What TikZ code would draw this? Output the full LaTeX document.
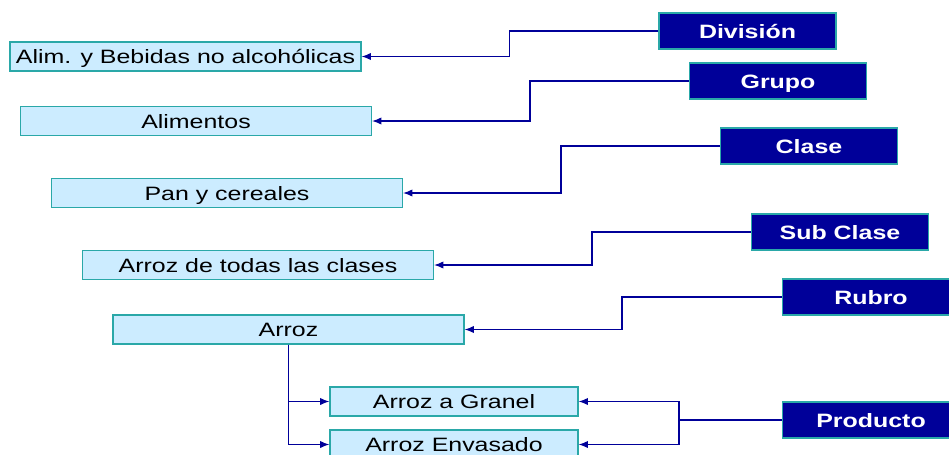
\documentclass[tikz,border=0pt]{standalone}
\usepackage{fontspec}
\usetikzlibrary{arrows.meta}
\setmainfont[FakeStretch=1.29]{Liberation Sans}
\definecolor{nivel}{HTML}{000099}
\definecolor{celeste}{HTML}{CCECFF}
\definecolor{borde}{HTML}{2AA8A8}

\tikzset{
  item/.style={draw=borde, fill=celeste, line width=0.9pt, inner sep=0pt,
    minimum width=263.25pt, minimum height=21.75pt,
    text height=10.5pt, text depth=0pt,
    font=\fontsize{14.5}{17}\selectfont},
  subitem/.style={item, minimum width=186pt},
  level/.style={draw=borde, fill=nivel, text=white, line width=0.9pt, inner sep=0pt,
    minimum width=132.75pt, minimum height=27pt,
    text height=10.5pt, text depth=0pt,
    font=\fontsize{14.5}{17}\selectfont\bfseries},
  conn/.style={draw=nivel, line width=0.9pt},
  tip/.style={-{Latex[length=7pt, width=5.5pt]}}
}

\begin{document}
\begin{tikzpicture}[x=0.75pt, y=-0.75pt]
        \useasboundingbox (0,0) rectangle (949,454);

        \node [item] (alim) at (185.5, 56.5) {Alim. y Bebidas no alcohólicas};
        \node [item] (alimentos) at (196, 121) {Alimentos};
        \node [item] (pan) at (227, 193) {Pan y cereales};
        \node [item] (todas) at (258, 265) {Arroz de todas las clases};
        \node [item] (arroz) at (288.5, 329.5) {Arroz};
        \node [subitem] (granel) at (454, 401.5) {Arroz a Granel};
        \node [subitem] (envasado) at (454, 444.5) {Arroz Envasado};

        \node [level] (division) at (747.5, 31) {División};
        \node [level] (grupo) at (778, 81) {Grupo};
        \node [level] (clase) at (809, 146) {Clase};
        \node [level] (subclase) at (840, 232) {Sub Clase};
        \node [level] (rubro) at (871, 297) {Rubro};
        \node [level] (producto) at (871, 420) {Producto};

        \draw[conn, tip] (division.west) -- ++(-149, 0) |- (alim.east);
        \draw[conn, tip] (grupo.west) -- ++(-159, 0) |- (alimentos.east);
        \draw[conn, tip] (clase.west) -- ++(-159, 0) |- (pan.east);
        \draw[conn, tip] (subclase.west) -- ++(-159, 0) |- (todas.east);
        \draw[conn, tip] (rubro.west) -- ++(-160, 0) |- (arroz.east);

        \draw[conn] (producto.west) -- ++(-103, 0) coordinate (pj);
        \draw[conn, tip] (pj) |- (granel.east);
        \draw[conn, tip] (pj) |- (envasado.east);

        \draw[conn, tip] (arroz.south) |- (granel.west);
        \draw[conn, tip] (arroz.south) |- (envasado.west);
      \end{tikzpicture}
\end{document}
